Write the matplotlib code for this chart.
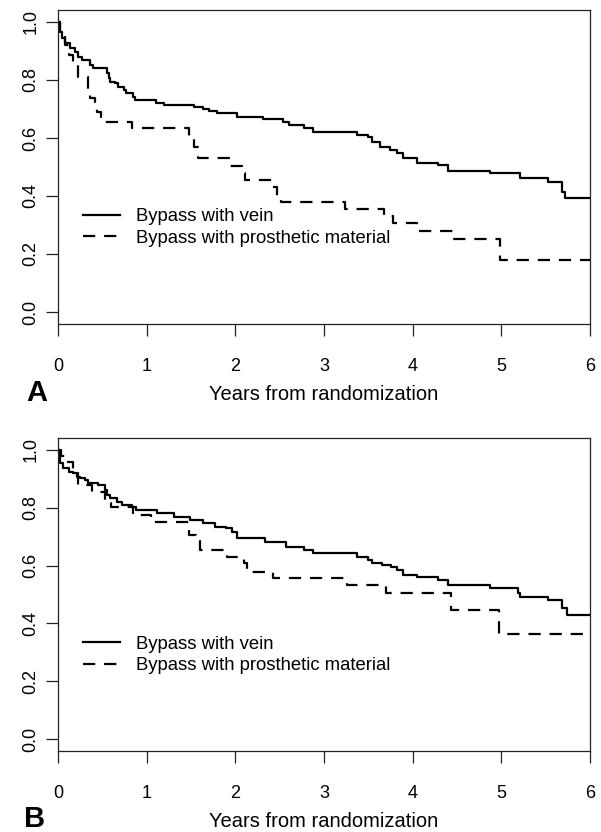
import matplotlib
matplotlib.use("Agg")
import matplotlib.pyplot as plt

plt.rcParams['font.family'] = ['Liberation Sans', 'DejaVu Sans']

# ---- Data: panel A ----
a_vein_t = [0, 0.02, 0.04, 0.08, 0.135, 0.19, 0.23, 0.27, 0.36, 0.40, 0.55, 0.57, 0.59,
            0.64, 0.68, 0.74, 0.77, 0.85, 0.87, 1.11, 1.19, 1.53, 1.64, 1.70, 1.79, 2.02,
            2.31, 2.54, 2.60, 2.77, 2.88, 3.37, 3.50, 3.54, 3.63, 3.74, 3.82, 3.89, 4.05,
            4.29, 4.40, 4.87, 5.21, 5.53, 5.68, 5.72, 6.0]
a_vein_s = [1.0, 0.966, 0.944, 0.926, 0.909, 0.898, 0.88, 0.869, 0.852, 0.84, 0.823, 0.806,
            0.794, 0.788, 0.777, 0.766, 0.754, 0.742, 0.731, 0.72, 0.714, 0.708, 0.70, 0.694,
            0.687, 0.673, 0.664, 0.656, 0.645, 0.634, 0.622, 0.61, 0.605, 0.587, 0.57, 0.559,
            0.548, 0.53, 0.513, 0.507, 0.487, 0.479, 0.462, 0.447, 0.415, 0.394, 0.394]
a_pros_t = [0, 0.02, 0.08, 0.12, 0.17, 0.22, 0.34, 0.36, 0.42, 0.44, 0.49, 0.51, 0.84, 1.48,
            1.53, 1.58, 1.93, 2.07, 2.11, 2.42, 2.47, 2.52, 3.24, 3.68, 3.78, 4.05, 4.45,
            4.98, 6.0]
a_pros_s = [1.0, 0.955, 0.92, 0.886, 0.852, 0.811, 0.766, 0.737, 0.714, 0.691, 0.673, 0.656,
            0.633, 0.60, 0.57, 0.53, 0.504, 0.478, 0.455, 0.432, 0.40, 0.38, 0.354, 0.33,
            0.306, 0.279, 0.252, 0.179, 0.179]

# ---- Data: panel B ----
b_vein_t = [0, 0.01, 0.02, 0.06, 0.12, 0.17, 0.21, 0.25, 0.30, 0.34, 0.45, 0.53, 0.55, 0.59,
            0.66, 0.72, 0.83, 0.88, 1.12, 1.31, 1.49, 1.64, 1.77, 1.90, 1.96, 2.02, 2.33,
            2.57, 2.77, 2.88, 3.37, 3.50, 3.54, 3.65, 3.76, 3.82, 3.89, 4.05, 4.29, 4.40,
            4.87, 5.19, 5.21, 5.53, 5.68, 5.74, 6.0]
b_vein_s = [1.0, 0.983, 0.954, 0.937, 0.925, 0.919, 0.908, 0.902, 0.896, 0.885, 0.879, 0.862,
            0.844, 0.833, 0.821, 0.81, 0.804, 0.792, 0.781, 0.769, 0.758, 0.746, 0.735, 0.729,
            0.717, 0.694, 0.68, 0.665, 0.654, 0.643, 0.631, 0.619, 0.608, 0.602, 0.596, 0.585,
            0.567, 0.562, 0.55, 0.533, 0.521, 0.504, 0.492, 0.481, 0.452, 0.429, 0.429]
b_pros_t = [0, 0.03, 0.09, 0.17, 0.23, 0.38, 0.53, 0.60, 0.85, 1.05, 1.48, 1.56, 1.60, 1.91,
            2.10, 2.13, 2.42, 3.26, 3.70, 4.43, 4.97, 6.0]
b_pros_s = [1.0, 0.98, 0.96, 0.925, 0.879, 0.856, 0.815, 0.804, 0.775, 0.752, 0.706, 0.689,
            0.654, 0.631, 0.608, 0.579, 0.556, 0.533, 0.504, 0.446, 0.365, 0.365]

labels = ["Bypass with vein", "Bypass with prosthetic material"]
x_ticks = [0, 1, 2, 3, 4, 5, 6]
y_ticks = [0.0, 0.2, 0.4, 0.6, 0.8, 1.0]
xlabel = "Years from randomization"

W, H = 601, 832
fig = plt.figure(figsize=(W / 100, H / 100), dpi=100)

def px_axes(top, bottom):
    left, right = 58, 590
    return fig.add_axes([left / W, 1 - bottom / H, (right - left) / W, (bottom - top) / H])

panels = [
    (px_axes(10.4, 323.6), a_vein_t, a_vein_s, a_pros_t, a_pros_s, "A", 37, 401, -0.244),
    (px_axes(438.4, 750.6), b_vein_t, b_vein_s, b_pros_t, b_pros_s, "B", 35, 827, -0.245),
]

for ax, vt, vs, pt, ps, letter, letter_x, letter_y, xl_y in panels:
    ax.plot(vt, vs, drawstyle='steps-post', color='black', lw=1.6, label=labels[0])
    ax.plot(pt, ps, drawstyle='steps-post', color='black', lw=1.6,
            dashes=(5.5, 4), label=labels[1])
    ax.set_xlim(0, 6)
    ax.set_ylim(-0.04, 1.04)
    ax.set_xticks(x_ticks)
    ax.set_xticklabels([str(t) for t in x_ticks])
    ax.set_yticks(y_ticks)
    ax.set_yticklabels([f"{t:.1f}" for t in y_ticks])
    ax.tick_params(axis='both', direction='out', length=8.5, width=0.9,
                   labelsize=13, color='#222222')
    ax.tick_params(axis='x', pad=16.5)
    ax.tick_params(axis='y', pad=5, labelrotation=90)
    for lab in ax.get_yticklabels():
        lab.set_va('center')
    for sp in ax.spines.values():
        sp.set_linewidth(0.9)
        sp.set_color('#222222')
    ax.set_xlabel(xlabel, fontsize=14.5, va='baseline')
    ax.xaxis.set_label_coords(0.5, xl_y)
    ax.legend(loc='upper left', bbox_to_anchor=(0.047, 0.368), frameon=False,
              fontsize=13.3, handlelength=2.0, handletextpad=0.85,
              labelspacing=0.25, borderpad=0, borderaxespad=0)
    fig.text(letter_x / W, 1 - letter_y / H, letter, fontsize=21, fontweight='bold',
             ha='center', va='baseline')

fig.savefig("out.png", dpi=100)
